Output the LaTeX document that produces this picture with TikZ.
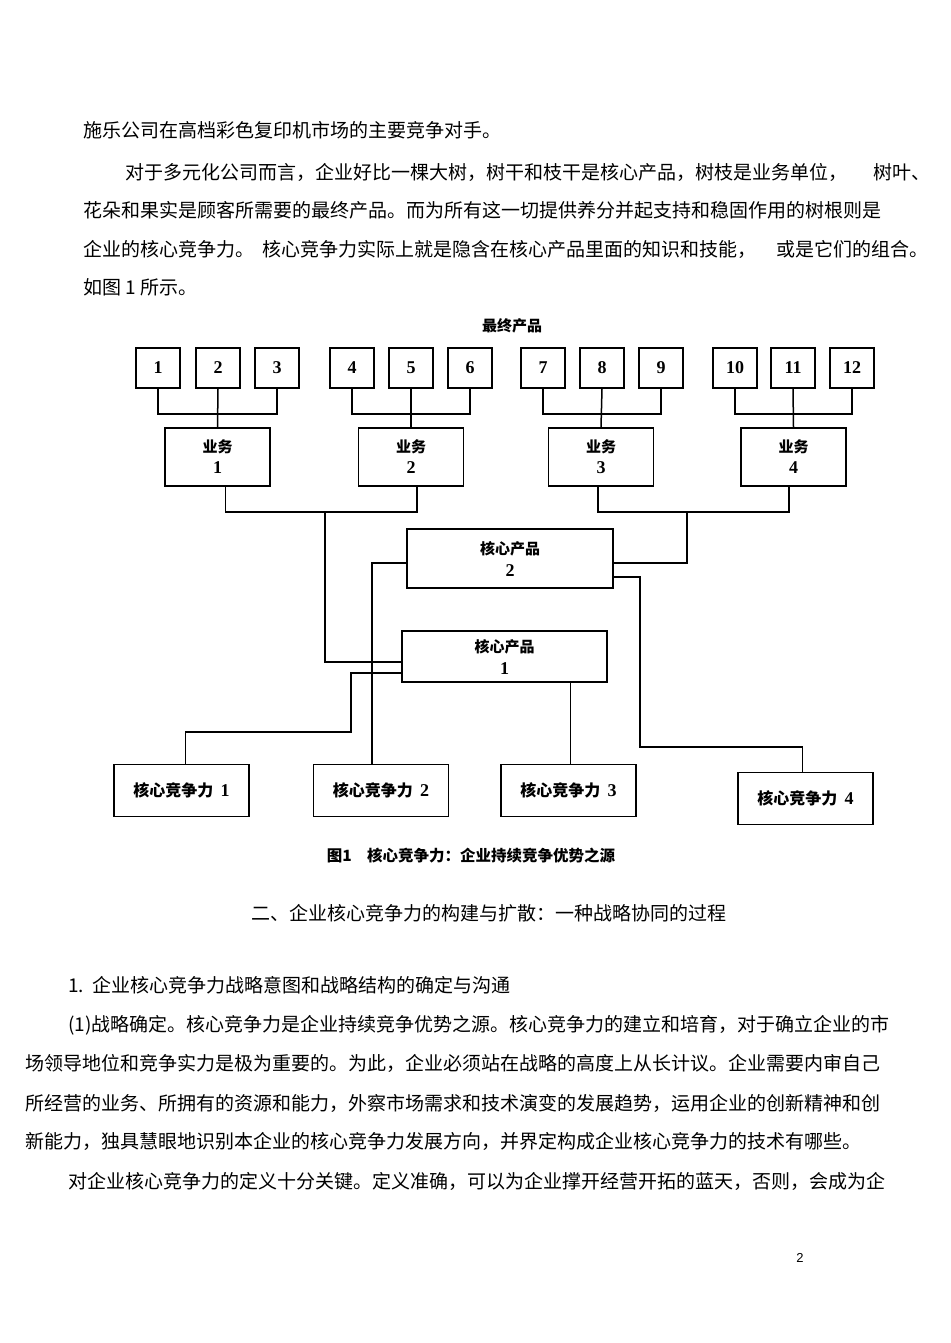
\documentclass[tikz,border=0pt]{standalone}
\usepackage{fontspec}
\setmainfont{Liberation Serif}
\newfontfamily\cjk{Noto Sans CJK SC}
\newfontfamily\pagefont{Liberation Sans}
\usepackage{tikz}

\newcommand{\dg}[1]{{\rmfamily\fontsize{18}{21}\selectfont #1}}

\begin{document}
\begin{tikzpicture}[x=1pt, y=-1pt,
    wire/.style={line width=1.5pt},
    prod/.style={draw, line width=1.5pt, minimum width=44pt, minimum height=40pt, inner sep=0pt, font=\bfseries\fontsize{18}{18}\selectfont},
    unit/.style={draw, line width=1.5pt, minimum width=105pt, minimum height=58pt, inner sep=0pt, align=center, font=\cjk\bfseries\fontsize{15}{21}\selectfont},
    core/.style={draw, line width=1.5pt, minimum width=205pt, inner sep=0pt, align=center, font=\cjk\bfseries\fontsize{15}{22}\selectfont},
    comp/.style={draw, line width=1.5pt, minimum width=135pt, minimum height=52pt, inner sep=0pt, font=\cjk\bfseries\fontsize{16}{16}\selectfont},
    body/.style={anchor=west, inner sep=0pt, font=\cjk\fontsize{19}{19}\selectfont}]
            \useasboundingbox (0,0) rectangle (950,1343);
            \fill[white] (0,0) rectangle (950,1343);
            % Text above the figure
            \node[body] (t1) at (83,130) {施乐公司在高档彩色复印机市场的主要竞争对手。};
            \node[body] (t2) at (125,172) {对于多元化公司而言，企业好比一棵大树，树干和枝干是核心产品，树枝是业务单位，};
            \node[body] (t2b) at (873,172) {树叶、};
            \node[body] (t3) at (83,210) {花朵和果实是顾客所需要的最终产品。而为所有这一切提供养分并起支持和稳固作用的树根则是};
            \node[body] (t4) at (83,249) {企业的核心竞争力。};
            \node[body] (t4b) at (262,249) {核心竞争力实际上就是隐含在核心产品里面的知识和技能，};
            \node[body] (t4c) at (776,249) {或是它们的组合。};
            \node[body] (t5) at (83,287) {如图 1 所示。};
            % Final products
            \node[font=\cjk\bfseries\fontsize{15}{15}\selectfont] (top) at (512,326) {最终产品};
            \foreach \i/\x in {1/158, 2/218, 3/277, 4/352, 5/411, 6/470, 7/543, 8/602, 9/661, 10/735, 11/793, 12/852}
                \node[prod] (p\i) at (\x,368) {\i};
            % Business units
            \node[unit] (b1) at (217.5,457) {业务\\\dg{1}};
            \node[unit] (b2) at (411,457) {业务\\\dg{2}};
            \node[unit] (b3) at (601,457) {业务\\\dg{3}};
            \node[unit] (b4) at (793.5,457) {业务\\\dg{4}};
            \foreach \g in {1,...,4} {
                \pgfmathtruncatemacro{\l}{3*\g-2}
                \pgfmathtruncatemacro{\m}{3*\g-1}
                \pgfmathtruncatemacro{\r}{3*\g}
                \draw[wire] (p\l.south) -- ++(0,25) -| (p\r.south);
                \draw[wire] (p\m.south) -- (b\g.north);
            }
            % Core products
            \node[core, minimum width=206pt, minimum height=59pt] (cp2) at (510,558.5) {核心产品\\\dg{2}};
            \node[core, minimum height=51pt] (cp1) at (504.5,656.5) {核心产品\\\dg{1}};
            \coordinate (j12) at (325,512);
            \coordinate (j34) at (687,512);
            \draw[wire] ([xshift=8pt]b1.south) |- (j12) -| ([xshift=6pt]b2.south);
            \draw[wire] ([xshift=-3pt]b3.south) |- (j34) -| ([xshift=-4.5pt]b4.south);
            \draw[wire] (j12) |- ([yshift=-5.5pt]cp1.west);
            \draw[wire] (j34) |- ([yshift=-4.5pt]cp2.east);
            % Core competences
            \node[comp] (c1) at (181.5,790.5) {核心竞争力\ \ \dg{1}};
            \node[comp] (c2) at (381,790.5) {核心竞争力\ \ \dg{2}};
            \node[comp] (c3) at (568.5,790.5) {核心竞争力\ \ \dg{3}};
            \node[comp] (c4) at (805.5,798.5) {核心竞争力\ \ \dg{4}};
            \coordinate (k1) at (351,732);
            \coordinate (k4) at (640,747);
            \draw[wire] ([xshift=4pt]c1.north) |- (k1) |- ([yshift=-16.5pt]cp1.west);
            \draw[wire] ([xshift=-9pt]c2.north) |- ([yshift=-4.5pt]cp2.west);
            \draw[wire] ([xshift=2pt]c3.north) -- ([xshift=2pt]c3.north |- cp1.south);
            \draw[wire] ([yshift=-18.5pt]cp2.east) -| (k4) -| ([xshift=-3pt]c4.north);
            % Caption
            \node[font=\cjk\bfseries\fontsize{15.5}{15.5}\selectfont] (cap) at (471,856) {图1\quad 核心竞争力：企业持续竞争优势之源};
            % Text below the figure
            \node[body, anchor=center] (s1) at (489,913) {二、企业核心竞争力的构建与扩散：一种战略协同的过程};
            \node[body] (s2) at (68,985) {1.\ \ 企业核心竞争力战略意图和战略结构的确定与沟通};
            \node[body] (s3) at (68,1025) {(1)战略确定。核心竞争力是企业持续竞争优势之源。核心竞争力的建立和培育，对于确立企业的市};
            \node[body] (s4) at (25,1063) {场领导地位和竞争实力是极为重要的。为此，企业必须站在战略的高度上从长计议。企业需要内审自己};
            \node[body] (s5) at (25,1103) {所经营的业务、所拥有的资源和能力，外察市场需求和技术演变的发展趋势，运用企业的创新精神和创};
            \node[body] (s6) at (25,1141) {新能力，独具慧眼地识别本企业的核心竞争力发展方向，并界定构成企业核心竞争力的技术有哪些。};
            \node[body] (s7) at (68,1181) {对企业核心竞争力的定义十分关键。定义准确，可以为企业撑开经营开拓的蓝天，否则，会成为企};
            % Page number
            \node[font=\pagefont\fontsize{13}{13}\selectfont] (pg) at (800,1258) {2};
        \end{tikzpicture}
\end{document}
